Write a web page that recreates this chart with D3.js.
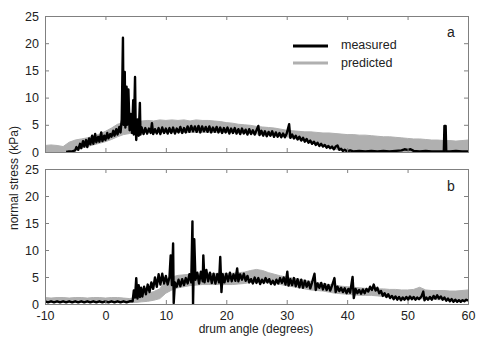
<!DOCTYPE html>
<html>
<head>
<meta charset="utf-8">
<script src="https://cdn.jsdelivr.net/npm/d3@7"></script>
<style>
  body { margin: 0; background: #fff; }
  svg { display: block; font-family: "Liberation Sans", Arial, sans-serif; }
</style>
</head>
<body>
<div id="chart"></div>
<script>
// x ticks and y ticks
var xTicks = [-10, 0, 10, 20, 30, 40, 50, 60];
var yTicks = [0, 5, 10, 15, 20, 25];

// predicted band: angle grid, low and high edge (kPa)
var predAngle = [-10,-9,-8,-7,-6,-5,-4,-3,-2,-1,0,1,2,3,4,5,6,7,8,9,10,11,12,13,14,15,16,17,18,19,20,
  21,22,23,24,25,26,27,28,29,30,31,32,33,34,35,36,37,38,39,40,41,42,43,44,45,46,47,48,49,50,
  51,52,53,54,55,56,57,58,59,60];

var predA_lo = [0,0,0,0,0.3,0.5,0.7,1.0,1.3,1.6,1.9,2.3,2.8,3.2,3.4,3.5,3.6,3.6,3.6,3.6,3.6,3.6,3.6,3.6,3.6,3.6,3.6,3.6,3.6,3.6,3.6,
  3.6,3.5,3.5,3.4,3.3,3.2,3.1,3.0,2.9,2.8,2.6,2.3,2.0,1.7,1.4,1.1,0.8,0.5,0.3,0.1,0,0,0,0,0,0,0,0,0,0,
  0,0,0,0,0,0,0,0,0,0];
var predA_hi = [1.2,1.3,1.2,1.0,1.8,2.2,2.4,2.6,2.9,3.3,3.8,4.4,5.1,5.4,5.5,5.6,5.7,5.8,5.7,5.9,5.8,5.9,5.8,5.9,5.7,5.9,5.8,5.8,5.7,5.6,5.4,
  5.3,5.1,5.0,4.9,4.7,4.6,4.5,4.4,4.2,4.0,3.9,3.8,3.7,3.7,3.6,3.5,3.5,3.4,3.3,3.2,3.2,3.1,3.1,3.0,2.9,2.8,2.8,2.7,2.6,2.5,
  2.4,2.4,2.3,2.2,2.2,2.1,2.1,2.0,2.1,2.2];

var predB_lo = [0.4,0.4,0.4,0.4,0.4,0.4,0.4,0.4,0.4,0.4,0.4,0.4,0.4,0.4,0.3,0.3,0.4,0.5,0.7,1.0,2.0,2.6,3.0,3.2,3.4,3.5,3.6,3.6,3.6,3.6,3.6,
  3.6,3.7,3.8,4.0,4.0,4.0,3.9,3.8,3.6,3.4,3.2,3.0,2.8,2.6,2.5,2.4,2.2,2.0,1.9,1.8,1.7,1.6,1.6,1.6,1.5,1.4,1.3,1.2,1.1,1.0,
  1.0,1.0,0.9,0.9,0.8,0.8,0.8,0.7,0.7,0.7];
var predB_hi = [1.2,1.1,1.2,1.2,1.1,1.2,1.2,1.1,1.2,1.2,1.1,1.2,1.2,1.1,1.0,1.2,1.8,2.0,2.3,2.8,4.5,5.0,5.3,5.4,5.5,5.6,5.5,5.7,5.6,5.8,5.6,
  5.7,5.8,5.9,6.2,6.4,6.2,5.8,5.5,5.2,5.0,4.8,4.6,4.4,4.2,4.0,3.8,3.6,3.5,3.3,3.2,3.1,3.0,2.9,2.9,2.8,2.8,2.7,2.7,2.6,2.6,
  2.7,3.1,2.6,2.5,2.5,2.5,2.4,2.4,2.5,2.6];

// measured [angle, kPa]
var measA = [[-6.5,0],[-6,0.1],[-5.5,0.1],[-5,0.3],[-4.8,0.9],[-4.5,0.4],[-4.2,1.5],[-4,0.7],[-3.7,2.0],[-3.5,1.0],
  [-3.2,2.2],[-3,0.9],[-2.7,2.5],[-2.5,1.4],[-2.2,3.0],[-2,1.5],[-1.7,3.3],[-1.5,1.8],[-1.2,2.8],[-1,1.9],[-0.7,3.6],
  [-0.5,2.0],[-0.2,3.0],[0,2.2],[0.3,3.5],[0.5,2.5],[0.8,3.3],[1,2.8],[1.3,3.9],[1.5,3.0],[1.8,4.2],[2,3.2],[2.3,4.6],
  [2.5,3.6],[2.7,6],[2.9,21],[3.0,5],[3.2,14.7],[3.3,4.5],[3.5,12],[3.6,5],[3.8,11.5],[4.0,4],[4.2,7],[4.4,3.5],
  [4.6,9.5],[4.7,3.2],[4.9,13.8],[5.0,5],[5.1,2.2],[5.3,6],[5.5,3.0],[5.7,9],[5.8,3.2],[6.0,4.5],[6.3,3.3],[6.6,4.4],
  [6.9,3.4],[7.2,4.3],[7.5,3.5],[7.7,5.3],[7.9,3.3],[8.2,4.2],[8.5,3.4],[8.8,4.4],[9.1,3.3],[9.4,4.5],[9.7,3.5],
  [10,4.3],[10.3,3.4],[10.6,4.4],[10.9,3.5],[11.2,4.5],[11.5,3.4],[11.8,4.3],[12.1,3.6],[12.4,4.6],[12.7,3.5],
  [13,4.4],[13.3,3.6],[13.6,4.7],[13.9,3.7],[14.2,4.8],[14.5,3.8],[14.8,4.7],[15.1,3.7],[15.4,4.8],[15.7,3.6],
  [16,4.7],[16.3,3.8],[16.6,4.6],[16.9,3.7],[17.2,4.7],[17.5,3.6],[17.8,4.5],[18.1,3.7],[18.4,4.6],[18.7,3.6],
  [19,4.5],[19.3,3.5],[19.6,4.4],[19.9,3.6],[20.2,4.5],[20.5,3.4],[20.8,4.3],[21.1,3.5],[21.4,4.4],[21.7,3.4],
  [22,4.2],[22.3,3.3],[22.6,4.3],[22.9,3.4],[23.2,4.1],[23.5,3.2],[23.8,4.2],[24.1,3.3],[24.4,4.0],[24.7,3.2],
  [25,4.0],[25.3,4.8],[25.5,3.1],[25.8,3.9],[26.1,3.0],[26.4,3.8],[26.7,2.9],[27,3.7],[27.3,3.0],[27.6,3.8],
  [27.9,2.8],[28.2,3.6],[28.5,2.8],[28.8,3.5],[29.1,2.7],[29.4,3.4],[29.7,2.7],[30,3.4],[30.4,5.1],[30.6,2.6],
  [30.9,3.2],[31.2,2.5],[31.5,3.0],[31.8,2.3],[32.1,2.8],[32.4,2.1],[32.7,2.6],[33,1.9],[33.3,2.4],[33.6,1.7],
  [33.9,2.1],[34.2,1.5],[34.5,1.9],[34.8,1.3],[35.1,1.7],[35.4,1.1],[35.7,1.5],[36,1.0],[36.3,1.3],[36.6,0.8],
  [36.9,1.1],[37.2,0.7],[37.5,1.0],[37.8,0.5],[38.1,1.0],[38.4,1.2],[38.7,0.4],[39,0.6],[39.3,0.2],[39.6,0.4],
  [40,0.1],[40.5,0.3],[41,0.1],[42,0.2],[43,0.1],[44,0.2],[45,0.1],[46,0.2],[47,0.1],[48,0.2],[49,0.3],[49.5,0.5],
  [50,0.4],[50.5,0.5],[51,0.2],[52,0.1],[53,0.2],[54,0.1],[55,0.1],[56,0.1],[56.1,4.8],[56.3,4.8],[56.4,0.1],
  [57,0.1],[58,0.2],[59,0.1],[60,0.1]];

var measB = [[-10,0.5],[-9.5,0.3],[-9,0.5],[-8.5,0.3],[-8,0.5],[-7.5,0.3],[-7,0.5],[-6.5,0.3],[-6,0.5],[-5.5,0.3],
  [-5,0.5],[-4.5,0.3],[-4,0.5],[-3.5,0.3],[-3,0.5],[-2.5,0.3],[-2,0.5],[-1.5,0.3],[-1,0.5],[-0.5,0.3],[0,0.5],
  [0.5,0.3],[1,0.5],[1.5,0.3],[2,0.5],[2.5,0.3],[3,0.5],[3.5,0.3],[4,0.5],[4.5,0.5],[4.7,2.5],[4.9,1.2],[5.1,4.8],
  [5.3,1.0],[5.5,3.5],[5.7,1.3],[5.9,3.0],[6.1,1.4],[6.4,3.2],[6.7,1.8],[7.0,3.6],[7.3,2.2],[7.6,4.0],[7.9,2.8],
  [8.2,4.9],[8.5,3.2],[8.8,5.5],[9.1,3.6],[9.4,5.6],[9.7,3.8],[10,5.2],[10.3,3.6],[10.6,5.0],[10.8,9],[11.0,3.5],
  [11.2,11.2],[11.3,0.2],[11.5,4],[11.8,3.2],[12.1,4.5],[12.4,3.3],[12.7,4.6],[13,3.5],[13.3,4.8],[13.6,3.8],
  [13.9,5.5],[14.2,4],[14.4,15.3],[14.5,0],[14.7,12],[14.9,4.5],[15.2,5.8],[15.5,3.8],[15.8,6],[16.1,4.2],[16.2,9],
  [16.4,4],[16.7,6.3],[17,4.2],[17.3,5.8],[17.6,3.9],[17.9,5.6],[18.2,3.8],[18.5,5.5],[18.8,4],[19.0,8.7],[19.2,2.2],
  [19.4,5.5],[19.7,4.0],[20,5.6],[20.3,4.2],[20.6,5.8],[20.9,4.2],[21.2,5.5],[21.5,4.3],[21.8,6.6],[22,4.2],
  [22.3,5.5],[22.6,4.5],[22.9,5.6],[23.2,4.3],[23.5,5.2],[23.8,4.0],[24.1,4.6],[24.4,3.8],[24.7,4.9],[25,3.9],
  [25.3,4.8],[25.6,3.7],[25.9,4.5],[26.2,3.9],[26.5,4.8],[26.8,4.0],[27.1,4.6],[27.4,3.7],[27.7,4.3],[28,3.6],
  [28.3,4.5],[28.6,3.8],[28.9,4.8],[29.2,3.9],[29.5,4.9],[29.8,3.6],[30.1,6.0],[30.3,3.4],[30.6,4.6],[30.9,3.5],
  [31.2,4.8],[31.5,3.3],[31.8,4.6],[32.1,3.1],[32.4,4.5],[32.7,3.0],[33,4.3],[33.3,3.2],[33.6,4.1],[33.9,2.9],
  [34.2,4.0],[34.6,5.6],[34.8,2.6],[35.1,3.8],[35.4,3.0],[35.7,3.9],[36,2.7],[36.3,3.7],[36.6,2.6],[36.9,3.5],
  [37.2,2.5],[37.5,3.4],[37.9,4.8],[38.1,2.2],[38.4,3.2],[38.7,2.4],[39,3.0],[39.3,2.2],[39.6,2.9],[39.9,2.0],
  [40.2,2.8],[40.5,2.1],[40.9,5.0],[41.1,1.1],[41.4,2.8],[41.7,2.0],[42,2.6],[42.3,1.9],[42.6,2.7],[42.9,2.0],
  [43.2,2.8],[43.5,2.3],[43.8,3.2],[44.1,2.6],[44.4,3.6],[44.7,2.5],[45,3.0],[45.3,2.0],[45.6,2.4],[45.9,1.5],
  [46.2,2.0],[46.5,1.3],[46.8,1.8],[47.1,1.1],[47.4,1.5],[47.7,0.9],[48,1.4],[48.3,0.8],[48.6,1.3],[48.9,0.7],
  [49.2,1.2],[49.5,0.8],[49.8,1.3],[50.1,0.8],[50.4,1.4],[50.7,0.9],[51,1.3],[51.3,0.8],[51.6,1.2],[51.9,0.9],
  [52.3,1.4],[52.6,2.3],[52.8,0.7],[53.1,1.2],[53.4,0.8],[53.7,1.3],[54,0.8],[54.3,1.5],[54.6,1.0],[54.9,1.6],
  [55.2,1.0],[55.5,1.4],[55.8,0.8],[56.1,1.2],[56.4,0.6],[56.7,1.0],[57,0.5],[57.3,0.9],[57.6,0.4],[57.9,0.8],
  [58.2,0.4],[58.5,0.7],[58.8,0.4],[59.1,0.7],[59.4,0.5],[59.7,0.8],[60,0.6]];

var W = 477, H = 337;
var left = 45, right = 468;
var panels = [
  { top: 16, bottom: 152, lo: predA_lo, hi: predA_hi, meas: measA, tag: "a", tagY: 37, xLabels: false },
  { top: 169, bottom: 304, lo: predB_lo, hi: predB_hi, meas: measB, tag: "b", tagY: 191, xLabels: true }
];

var svg = d3.select("#chart").append("svg")
  .attr("width", W).attr("height", H);

var x = d3.scaleLinear().domain([-10, 60]).range([left, right]);

var frameColor = "#808080";
var textColor = "#222";
var grayColor = "#b0b0b0";

panels.forEach(function(p, idx) {
  var y = d3.scaleLinear().domain([0, 25]).range([p.bottom, p.top]);
  var g = svg.append("g");

  var clipId = "clip" + idx;
  svg.append("clipPath").attr("id", clipId)
    .append("rect").attr("x", left).attr("y", p.top)
    .attr("width", right - left).attr("height", p.bottom - p.top);

  // predicted band
  var area = d3.area()
    .x(function(d, i) { return x(predAngle[i]); })
    .y0(function(d, i) { return y(p.lo[i]); })
    .y1(function(d, i) { return y(p.hi[i]); });
  g.append("path")
    .datum(predAngle)
    .attr("d", area)
    .attr("clip-path", "url(#" + clipId + ")")
    .style("fill", grayColor)
    .style("stroke", grayColor)
    .style("stroke-width", 1);

  // measured
  var line = d3.line().x(d => x(d[0])).y(d => y(d[1]));
  g.append("path")
    .datum(p.meas)
    .attr("d", line)
    .attr("clip-path", "url(#" + clipId + ")")
    .style("fill", "none")
    .style("stroke", "#000")
    .style("stroke-width", 2.4)
    .style("stroke-linejoin", "round");

  // axes, ticks inward (MATLAB style box)
  var axL = d3.axisLeft(y).tickValues(yTicks).tickSize(-4).tickPadding(6);
  var axR = d3.axisRight(y).tickValues(yTicks).tickSize(-4).tickFormat("");
  var axB = d3.axisBottom(x).tickValues(xTicks).tickSize(-4).tickPadding(7)
    .tickFormat(d => String(d));
  if (!p.xLabels) axB.tickFormat("");
  var axT = d3.axisTop(x).tickValues(xTicks).tickSize(-4).tickFormat("");

  svg.append("g").attr("transform", "translate(" + left + ",0)").call(axL);
  svg.append("g").attr("transform", "translate(" + right + ",0)").call(axR);
  svg.append("g").attr("transform", "translate(0," + p.bottom + ")").call(axB);
  svg.append("g").attr("transform", "translate(0," + p.top + ")").call(axT);

  svg.append("text")
    .attr("x", right - 17).attr("y", p.tagY)
    .attr("text-anchor", "middle")
    .style("font-size", "14px")
    .style("fill", textColor)
    .text(p.tag);
});

svg.selectAll(".domain").style("stroke", frameColor).attr("stroke-width", 1);
svg.selectAll(".tick line").style("stroke", frameColor);
svg.selectAll(".tick text").style("font-size", "12.5px").style("fill", textColor)
  .style("font-family", "'Liberation Sans', Arial, sans-serif");

// legend
var legend = [["measured", "#000", 3, 46, 49], ["predicted", grayColor, 3, 63, 67]];
legend.forEach(function(l) {
  svg.append("line").attr("x1", 293).attr("x2", 328).attr("y1", l[3]).attr("y2", l[3])
    .style("stroke", l[1]).style("stroke-width", l[2]);
  svg.append("text").attr("x", 341).attr("y", l[4])
    .style("font-size", "12.5px").style("fill", textColor).text(l[0]);
});

// axis titles
svg.append("text")
  .attr("x", 256).attr("y", 333)
  .attr("text-anchor", "middle")
  .style("font-size", "12px").style("fill", textColor)
  .text("drum angle (degrees)");

svg.append("text")
  .attr("transform", "translate(18,178) rotate(-90)")
  .attr("text-anchor", "middle")
  .style("font-size", "12px").style("fill", textColor)
  .text("normal stress (kPa)");
</script>
</body>
</html>
